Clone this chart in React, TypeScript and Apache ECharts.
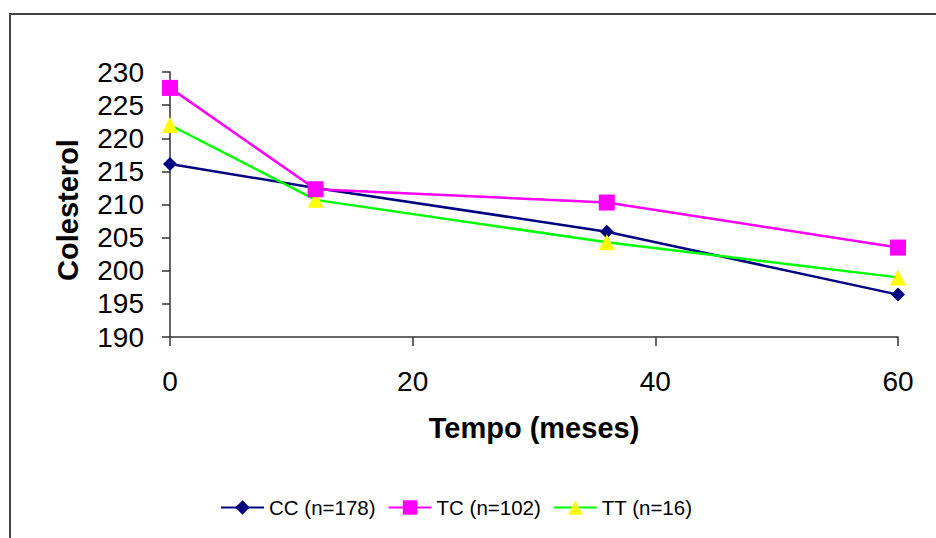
import React, { useEffect, useRef } from "react";
import * as echarts from "echarts";

const months = [0, 12, 36, 60];
const ccValues = [216.1, 212.5, 205.9, 196.4];
const tcValues = [227.6, 212.3, 210.3, 203.5];
const ttValues = [222.0, 210.7, 204.3, 199.0];
const seriesNames = ["CC (n=178)", "TC (n=102)", "TT (n=16)"];

const FONT = "'Liberation Sans', Arial, sans-serif";

export default function App() {
  const ref = useRef<HTMLDivElement>(null);
  useEffect(() => {
    document.body.style.margin = "0";
    const chart = echarts.init(ref.current!, null, { renderer: "svg" });
    const pair = (vals: number[]) => months.map((m, i) => [m, vals[i]]);
    chart.setOption({
      animation: false,
      backgroundColor: "#ffffff",
      textStyle: { fontFamily: FONT, color: "#000" },
      grid: { left: 170, right: 38, top: 72, bottom: 201, containLabel: false },
      graphic: [
        {
          type: "rect",
          shape: { x: 10, y: 14, width: 1000, height: 1000 },
          style: { fill: "none", stroke: "#444", lineWidth: 2 },
          silent: true,
        },
        {
          type: "text",
          x: 68,
          y: 210,
          rotation: Math.PI / 2,
          style: {
            text: "Colesterol",
            fontFamily: FONT,
            fontSize: 29,
            fontWeight: "bold",
            fill: "#000",
            align: "center",
            verticalAlign: "middle",
          },
          silent: true,
        },
      ],
      xAxis: {
        type: "value",
        min: 0,
        max: 60,
        interval: 20,
        name: "Tempo (meses)",
        nameLocation: "middle",
        nameGap: 76,
        nameTextStyle: { fontFamily: FONT, fontSize: 29, fontWeight: "bold", color: "#000" },
        axisLine: { show: true, lineStyle: { color: "#333", width: 1.5 } },
        axisTick: { show: true, inside: false, length: 9, lineStyle: { color: "#333", width: 1.5 } },
        axisLabel: { fontFamily: FONT, fontSize: 28, color: "#000", margin: 30 },
        splitLine: { show: false },
      },
      yAxis: {
        type: "value",
        min: 190,
        max: 230,
        interval: 5,
        axisLine: { show: true, lineStyle: { color: "#333", width: 1.5 } },
        axisTick: { show: true, inside: false, length: 8, lineStyle: { color: "#333", width: 1.5 } },
        axisLabel: { fontFamily: FONT, fontSize: 28, color: "#000", margin: 26 },
        splitLine: { show: false },
      },
      legend: {
        left: 215,
        top: 492,
        itemWidth: 43,
        itemHeight: 18,
        itemGap: 12,
        textStyle: { fontFamily: FONT, fontSize: 20.5, color: "#000" },
        data: seriesNames,
      },
      series: [
        {
          name: seriesNames[0],
          type: "line",
          data: pair(ccValues),
          symbol: "diamond",
          symbolSize: 14,
          lineStyle: { color: "#000080", width: 2.5 },
          itemStyle: { color: "#000080" },
          z: 2,
        },
        {
          name: seriesNames[1],
          type: "line",
          data: pair(tcValues),
          symbol: "rect",
          symbolSize: 16,
          lineStyle: { color: "#FF00FF", width: 2.5 },
          itemStyle: { color: "#FF00FF" },
          z: 4,
        },
        {
          name: seriesNames[2],
          type: "line",
          data: pair(ttValues),
          symbol: "triangle",
          symbolSize: 16,
          lineStyle: { color: "#00FF00", width: 2.5 },
          itemStyle: { color: "#FFFF00" },
          z: 3,
        },
      ],
    });
    return () => chart.dispose();
  }, []);
  return (
    <div
      ref={ref}
      style={{ position: "absolute", left: 0, top: 0, width: 936, height: 538 }}
    />
  );
}
